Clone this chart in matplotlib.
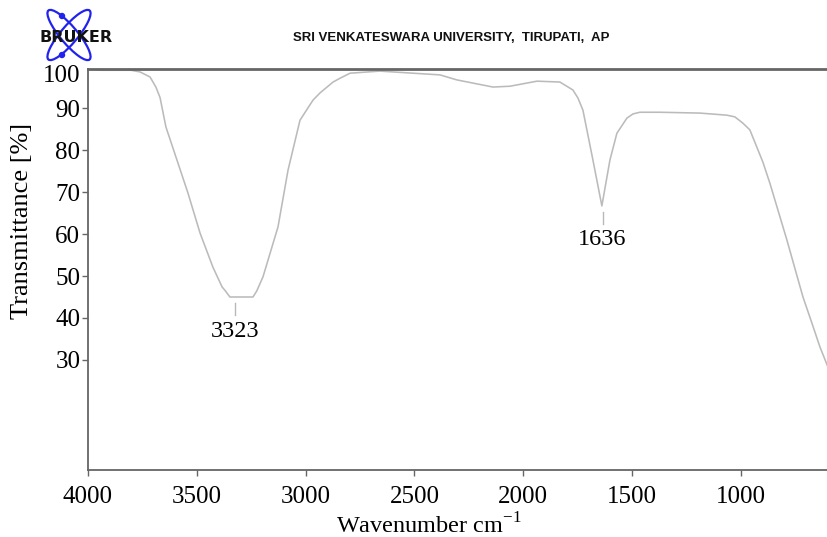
import matplotlib.pyplot as plt
from matplotlib.patches import Ellipse, Circle
from matplotlib.transforms import IdentityTransform

# IR spectrum, values
wavenumber = [3990, 3940, 3802, 3761, 3715, 3688, 3669, 3642, 3541, 3485, 3426,
              3384, 3371, 3348, 3293, 3242, 3225, 3196, 3127, 3081, 3026, 2966,
              2934, 2874, 2842, 2796, 2659, 2507, 2383, 2305, 2139, 2061, 1937,
              1832, 1772, 1749, 1726, 1680, 1639, 1602, 1570, 1524, 1496, 1464,
              1372, 1188, 1064, 1028, 991, 959, 927, 899, 867, 789, 715, 674, 637, 600]
transmittance = [99.2, 99.0, 99.0, 98.6, 97.4, 95.0, 92.5, 85.5, 69.8, 60.2, 52.1,
                 47.4, 46.6, 45.0, 45.0, 45.0, 46.4, 49.8, 61.7, 75.2, 87.1, 91.9,
                 93.6, 96.2, 97.1, 98.3, 98.8, 98.3, 97.9, 96.7, 95.0, 95.2, 96.4,
                 96.2, 94.3, 92.4, 89.5, 77.6, 66.7, 77.6, 84.0, 87.6, 88.6, 89.0,
                 89.0, 88.8, 88.3, 87.9, 86.4, 84.8, 80.7, 77.1, 72.1, 58.6, 45.0, 38.8, 33.1, 28.3]

peaks = [3323, 1636]
peak_T = [45.0, 66.7]

xticks = [4000, 3500, 3000, 2500, 2000, 1500, 1000]
yticks = [30, 40, 50, 60, 70, 80, 90]

serif = 'Liberation Serif'
spine_col = '#666666'

fig = plt.figure(figsize=(8.28, 5.37), dpi=100)
ax = fig.add_axes([88/828, 1 - 470/537, 1 - 88/828, (470 - 69)/537])

ax.plot(wavenumber, transmittance, color='#bbbbbb', lw=1.15, solid_joinstyle='round')
ax.set_xlim(4000, 600)
ax.set_ylim(3.8, 99.3)

# peak markers and labels
for p, t in zip(peaks, peak_T):
    ax.plot([p, p], [t - 1.5, t - 4.4], color='#b8b8b8', lw=1.0)
    ax.text(p, t - 5.6, str(p), ha='center', va='top', family=serif, fontsize=17.5)

ax.set_xticks(xticks)
ax.set_yticks(yticks)
ax.set_xticklabels([str(v) for v in xticks], family=serif, fontsize=18)
ax.set_yticklabels([str(v) for v in yticks], family=serif, fontsize=18)
ax.tick_params(axis='both', direction='out', length=4.5, width=1.0, color=spine_col)
ax.tick_params(axis='x', pad=7)
ax.tick_params(axis='y', pad=1)
# "100" sits just under the top frame line in the reference
ax.annotate('100', xy=(0, 97.6), xycoords=ax.get_yaxis_transform(), xytext=(-5.5, 0),
            textcoords='offset points', ha='right', va='center', family=serif, fontsize=18)

ax.set_xlabel('Wavenumber cm$^{\\mathregular{-1}}$', family=serif, fontsize=17.5)
ax.set_ylabel('Transmittance [%]', family=serif, fontsize=19)
ax.xaxis.set_label_coords(0.461, -0.108)
ax.yaxis.set_label_coords(-0.074, 0.62)

ax.spines['right'].set_visible(False)
ax.spines['top'].set_color(spine_col)
ax.spines['top'].set_linewidth(2.0)
ax.spines['left'].set_color(spine_col)
ax.spines['left'].set_linewidth(1.3)
ax.spines['bottom'].set_color(spine_col)
ax.spines['bottom'].set_linewidth(1.3)

# header: Bruker logo (pixel coordinates) and institution
H = 537
logo_c = (69, H - 35)
for ang in (50, -50):
    fig.add_artist(Ellipse(logo_c, 64, 17, angle=ang, transform=IdentityTransform(),
                           fill=False, ec='#2222ee', lw=1.6))
for cy in (16, 55):
    fig.add_artist(Circle((62, H - cy), 2.5, transform=IdentityTransform(), color='#2222ee'))
fig.text(76/828, 1 - 37/537, 'BRUKER', ha='center', va='center', family='DejaVu Sans',
         fontweight='bold', fontsize=11.5, color='#111111')
fig.text(451/828, 1 - 38/537, 'SRI VENKATESWARA UNIVERSITY,  TIRUPATI,  AP', ha='center',
         va='center', family='Liberation Sans', fontweight='bold', fontsize=9.5, color='#111111')

fig.savefig('out.png', dpi=100)
